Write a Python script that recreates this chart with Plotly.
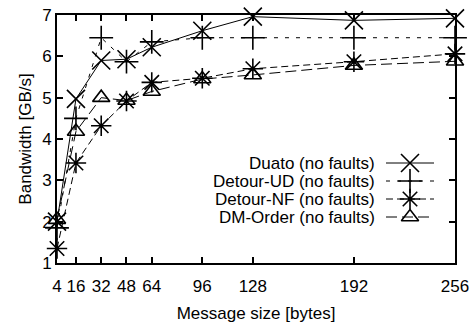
import plotly.graph_objects as go

sizes = [4, 16, 32, 48, 64, 96, 128, 192, 256]
x_ticks = [4, 16, 32, 48, 64, 96, 128, 192, 256]
y_ticks = [1, 2, 3, 4, 5, 6, 7]

duato = [2.0, 4.97, 5.9, 5.93, 6.22, 6.62, 6.96, 6.87, 6.92]
detour_ud = [1.85, 4.5, 6.45, 5.87, 6.35, 6.45, 6.45, 6.45, 6.45]
detour_nf = [1.35, 3.42, 4.32, 4.92, 5.37, 5.47, 5.7, 5.87, 6.06]
dm_order = [2.05, 4.18, 5.0, 4.93, 5.15, 5.45, 5.55, 5.78, 5.88]

series_names = ["Duato (no faults)", "Detour-UD (no faults)",
                "Detour-NF (no faults)", "DM-Order (no faults)"]
series_vals = [duato, detour_ud, detour_nf, dm_order]
symbols = ["x-thin-open", "cross-thin-open", "asterisk-open", "triangle-up-open"]
dashes = ["solid", "4px,7px", "7px,4px", "11px,5px"]
msizes = [18, 17, 17, 15]

FONT = "Liberation Sans, Arial, sans-serif"
FS = 17

fig = go.Figure()
for name, vals, sym, dash, ms in zip(series_names, series_vals, symbols, dashes, msizes):
    fig.add_trace(go.Scatter(
        x=sizes, y=vals, mode="lines+markers", name=name,
        line=dict(color="black", width=1, dash=dash),
        marker=dict(symbol=sym, size=ms, color="black",
                    line=dict(color="black", width=1.6)),
        showlegend=False, cliponaxis=False,
    ))

# custom legend (text on the left, sample on the right), in pixel-like overlay coords
leg_rows = [163, 181, 199, 217]
for name, sym, dash, ms, yy in zip(series_names, symbols, dashes, msizes, leg_rows):
    fig.add_trace(go.Scatter(
        x=[386, 434], y=[yy, yy], xaxis="x2", yaxis="y2", mode="lines",
        line=dict(color="black", width=1, dash=dash), showlegend=False,
        hoverinfo="skip"))
    fig.add_trace(go.Scatter(
        x=[410], y=[yy], xaxis="x2", yaxis="y2", mode="markers",
        marker=dict(symbol=sym, size=ms, color="black",
                    line=dict(color="black", width=1.6)),
        showlegend=False, hoverinfo="skip"))
    fig.add_annotation(x=377, y=yy, xref="x2", yref="y2", text=name,
                       showarrow=False, xanchor="right", yanchor="middle",
                       font=dict(family=FONT, size=FS, color="black"))

fig.update_layout(
    width=475, height=324,
    margin=dict(l=57, r=20, t=15, b=61, autoexpand=False),
    paper_bgcolor="white", plot_bgcolor="white",
    font=dict(family=FONT, size=FS, color="black"),
    xaxis=dict(range=[4, 256], tickvals=x_ticks, ticktext=[str(t) for t in x_ticks],
               automargin=False,
               showgrid=False, zeroline=False, showline=True, linecolor="black",
               linewidth=2, mirror="ticks", ticks="inside", ticklen=6, tickwidth=1.5,
               tickcolor="black", ticklabelstandoff=7,
               title=dict(text="Message size [bytes]", standoff=12,
                          font=dict(family=FONT, size=FS))),
    yaxis=dict(range=[1, 7], tickvals=y_ticks, showgrid=False, zeroline=False,
               automargin=False,
               showline=True, linecolor="black", linewidth=2, mirror="ticks",
               ticks="inside", ticklen=6, tickwidth=1.5, tickcolor="black",
               title=dict(text="Bandwidth [GB/s]", standoff=6,
                          font=dict(family=FONT, size=FS))),
    xaxis2=dict(overlaying="x", range=[57, 455], visible=False, fixedrange=True),
    yaxis2=dict(overlaying="y", range=[263, 15], visible=False, fixedrange=True),
)

fig.write_html("out.html", config={"displayModeBar": False},
               post_script="document.body.style.margin='0';")
